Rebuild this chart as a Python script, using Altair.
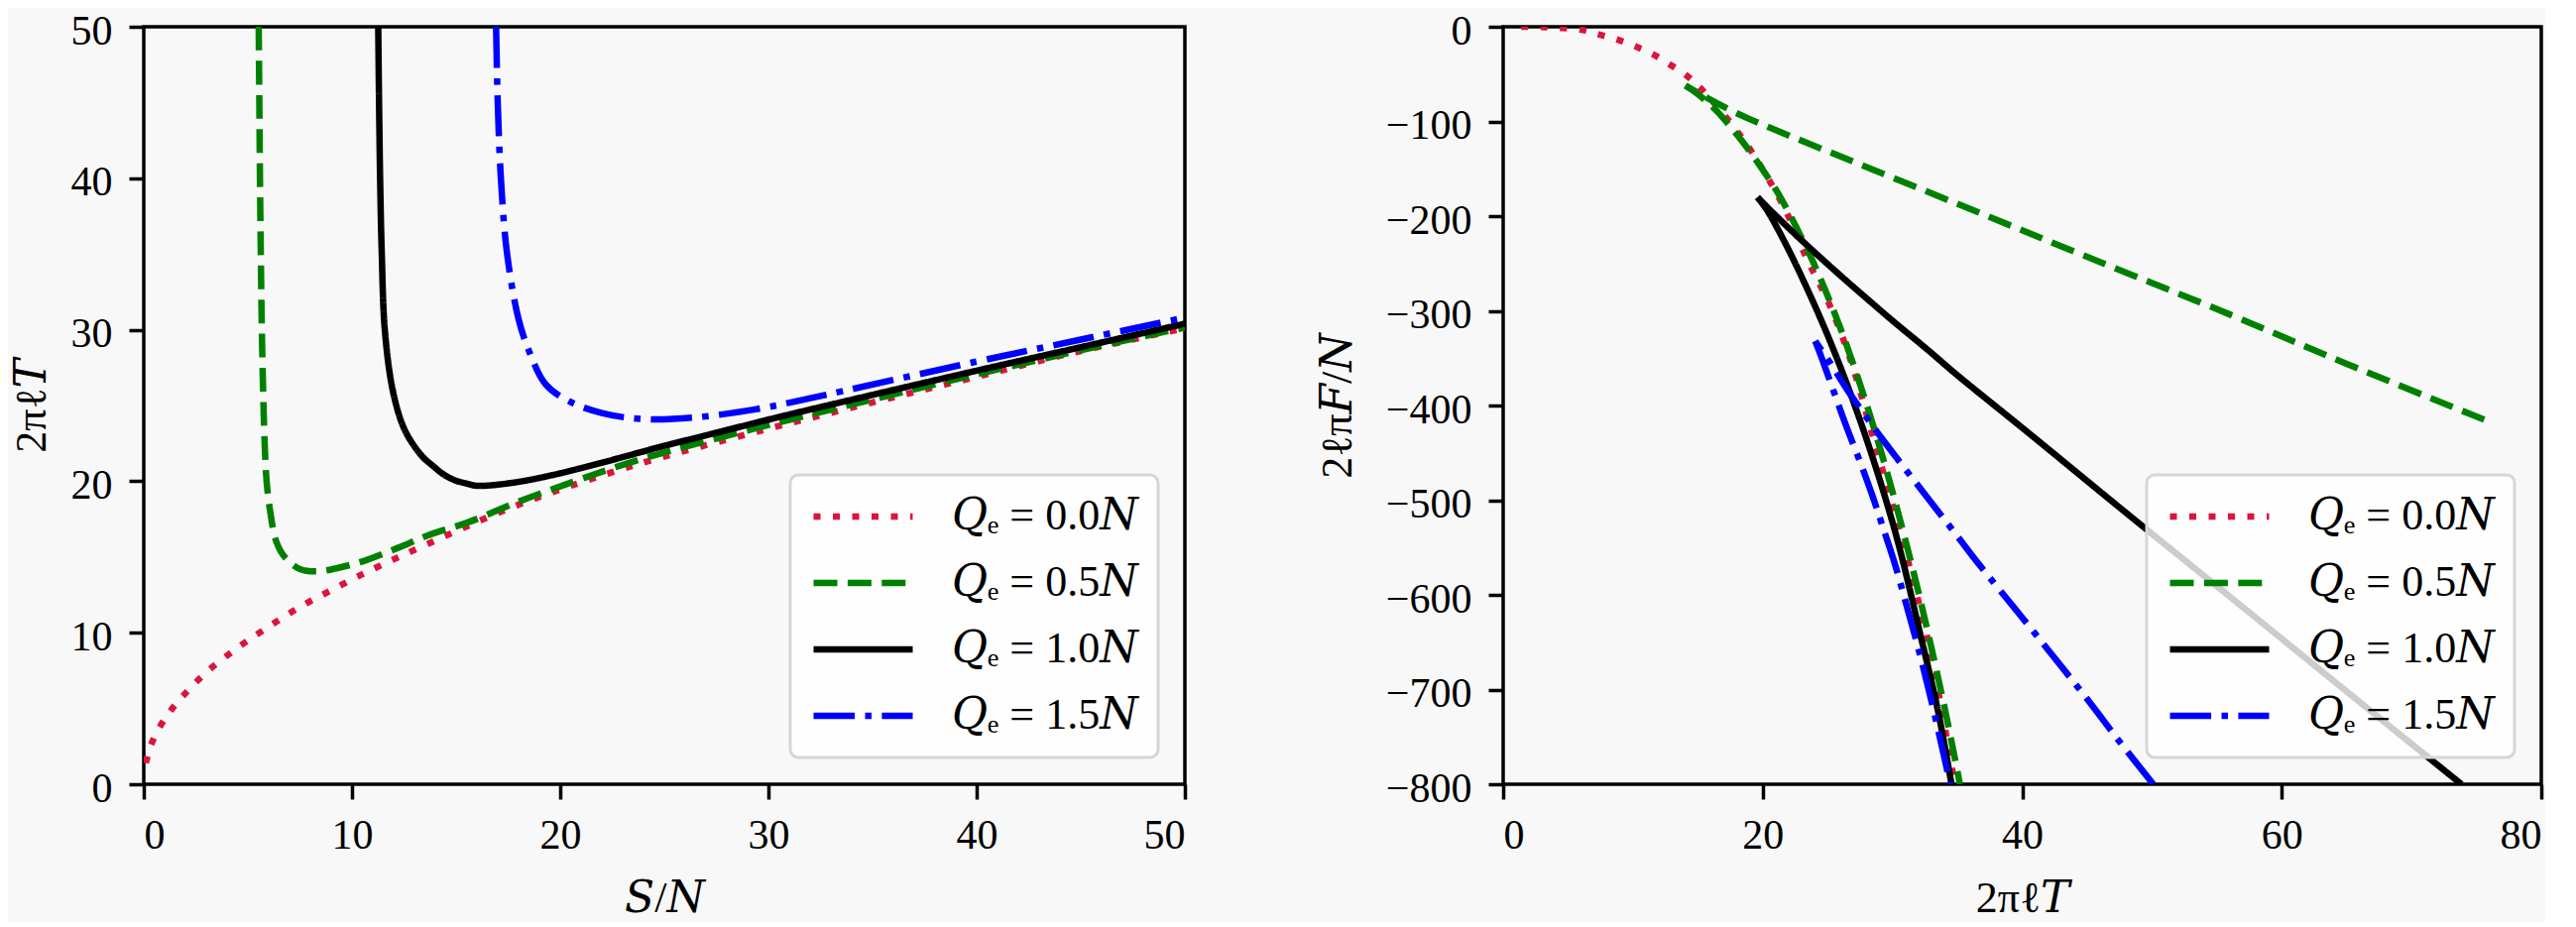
import altair as alt
import pandas as pd

FONT = "Liberation Serif, DejaVu Serif, serif"
SERIES = ["𝑄ₑ = 0.0𝑁", "𝑄ₑ = 0.5𝑁", "𝑄ₑ = 1.0𝑁", "𝑄ₑ = 1.5𝑁"]
COLORS = ["crimson", "green", "black", "blue"]
DASHES = [[7, 12.5], [24, 10.4], [1, 0], [41.6, 10.4, 6.5, 10.4]]

# ---- left panel: 2*pi*l*T versus S/N ----
s_q00 = [0.1, 0.35, 1.0, 1.9, 3.1, 4.6, 6.0, 7.5, 9.0, 10.7, 13.7, 17.9, 23.2, 29.8, 35.0, 40.0, 45.0, 50.0]
t_q00 = [1.4, 2.6, 4.3, 5.85, 7.5, 9.1, 10.4, 11.7, 12.8, 14.0, 15.9, 18.4, 20.9, 23.4, 25.2, 26.9, 28.6, 30.1]

s_q05 = [5.52, 5.55, 5.58, 5.62, 5.67, 5.75, 5.82, 5.9, 6.05, 6.37, 6.8, 7.5, 8.3, 9.4, 10.7,
         12.2, 13.7, 15.6, 17.9, 20.7, 23.5, 29.4, 35.0, 40.0, 45.0, 50.0]
t_q05 = [50.0, 45.0, 40.0, 35.0, 30.0, 25.0, 22.0, 20.0, 18.2, 16.0, 14.95, 14.2, 14.05, 14.3, 14.8,
         15.6, 16.45, 17.3, 18.6, 20.0, 21.3, 23.5, 25.4, 27.05, 28.65, 30.15]

s_q10 = [11.26, 11.3, 11.35, 11.43, 11.57, 11.9, 12.3, 12.6, 12.95, 13.4, 13.9, 14.4, 14.97, 15.5, 16.0,
         17.7, 19.6, 22.2, 24.9, 27.5, 29.8, 31.9, 40.0, 45.0, 50.0]
t_q10 = [50.0, 45.0, 40.0, 35.0, 30.1, 26.4, 24.2, 23.2, 22.4, 21.6, 21.0, 20.45, 20.05, 19.85, 19.7,
         19.9, 20.4, 21.3, 22.3, 23.2, 24.0, 24.7, 27.3, 28.85, 30.4]

s_q15 = [16.92, 17.0, 17.15, 17.45, 18.0, 18.5, 19.3, 20.4, 22.0, 24.0, 26.4, 29.8, 31.9, 40.0, 45.0, 50.0]
t_q15 = [50.0, 45.0, 40.0, 35.0, 30.7, 28.6, 26.4, 25.3, 24.5, 24.1, 24.2, 24.85, 25.45, 27.9, 29.35, 30.8]

# ---- right panel: 2*l*pi*F/N versus 2*pi*l*T (small-S branch, then large-S branch) ----
tr_q00 = [1.4, 3.25, 6.15, 7.5, 8.9, 10.25, 11.6, 12.8, 14.0, 15.0, 16.6, 18.6, 20.15, 21.8,
          23.4, 25.1, 26.8, 28.35, 30.0, 31.5, 33.0, 34.8]
f_q00 = [0.0, -0.5, -3.5, -8.5, -14.0, -21.0, -29.5, -39.5, -50.0, -62.0, -86.0, -121.0, -154.0, -195.0,
         -245.0, -292.0, -353.0, -426.0, -505.0, -580.0, -665.0, -800.0]

tr_q05 = [75.6, 65.0, 56.2, 45.0, 35.0, 25.1, 19.0, 17.0, 15.5, 14.5, 14.05,
          14.8, 15.6, 16.5, 17.3, 18.6, 20.1, 21.4, 23.6, 25.5, 27.1, 28.6, 30.1, 32.0, 34.0, 35.2]
f_q05 = [-415.0, -356.0, -305.0, -243.0, -187.0, -132.0, -97.5, -84.5, -73.5, -65.7, -62.0,
         -69.0, -78.0, -89.5, -102.0, -124.0, -153.0, -181.0, -240.0, -301.0, -361.0, -425.0, -496.0,
         -597.0, -718.0, -800.0]

tr_q10 = [73.85, 65.0, 57.0, 48.6, 40.4, 35.0, 32.7, 30.1, 28.5, 26.4, 24.2, 22.5, 21.2, 20.1, 19.6,
          20.3, 21.1, 22.55, 25.1, 27.64, 30.2, 32.2, 33.5, 34.55]
f_q10 = [-800.0, -702.0, -613.0, -520.0, -428.0, -368.0, -341.0, -311.5, -292.7, -267.7, -240.7, -219.1,
         -202.0, -187.0, -180.0,
         -193.0, -212.0, -251.0, -329.0, -421.0, -533.0, -645.0, -722.0, -800.0]

tr_q15 = [50.1, 47.5, 45.0, 40.0, 36.8, 35.0, 30.7, 28.6, 26.4, 25.3, 24.5, 24.05,
          24.5, 25.0, 25.6, 26.5, 27.6, 28.5, 29.2, 30.2, 31.0, 32.0, 33.0, 34.0, 34.45]
f_q15 = [-800.0, -755.0, -710.0, -624.0, -570.0, -538.0, -462.0, -424.0, -381.0, -357.0, -341.0, -332.0,
         -348.0, -367.0, -390.0, -424.0, -463.0, -497.0, -526.0, -568.0, -607.0, -657.0, -712.0, -772.0, -800.0]

# index of the cusp (minimum temperature) point in each right-panel series
cusp_right = [None, 10, 14, 11]


def frame(xs_list, ys_list, cusps=None):
    rows = []
    for k, (name, xs, ys) in enumerate(zip(SERIES, xs_list, ys_list)):
        c = cusps[k] if cusps else None
        for i, (x, y) in enumerate(zip(xs, ys)):
            if c is None:
                rows.append({"x": x, "y": y, "series": name, "branch": "a", "i": i})
            else:
                if i <= c:
                    rows.append({"x": x, "y": y, "series": name, "branch": "a", "i": i})
                if i >= c:
                    rows.append({"x": x, "y": y, "series": name, "branch": "b", "i": i})
    return pd.DataFrame(rows)


left_df = frame([s_q00, s_q05, s_q10, s_q15], [t_q00, t_q05, t_q10, t_q15])
right_df = frame([tr_q00, tr_q05, tr_q10, tr_q15], [f_q00, f_q05, f_q10, f_q15], cusp_right)

color = alt.Color("series:N", scale=alt.Scale(domain=SERIES, range=COLORS), legend=alt.Legend(title=None))
dash = alt.StrokeDash("series:N", scale=alt.Scale(domain=SERIES, range=DASHES), legend=alt.Legend(title=None))

W, H = 1050, 764
XTITLE_Y = 128

left = alt.Chart(left_df).mark_line(strokeWidth=6.5, interpolate="catmull-rom", clip=True).encode(
    x=alt.X("x:Q", scale=alt.Scale(domain=[0, 50], nice=False),
            axis=alt.Axis(values=[0, 10, 20, 30, 40, 50], title="𝑆/𝑁",
                          titleBaseline="alphabetic", titleY=XTITLE_Y)),
    y=alt.Y("y:Q", scale=alt.Scale(domain=[0, 50], nice=False),
            axis=alt.Axis(values=[0, 10, 20, 30, 40, 50], title="2πℓ𝑇", labelPadding=17, labelOffset=4,
                          titleBaseline="alphabetic", titleX=-100)),
    color=color,
    strokeDash=dash,
    order="i:Q",
).properties(width=W, height=H)

right = alt.Chart(right_df).mark_line(strokeWidth=6.5, interpolate="catmull-rom", clip=True).encode(
    x=alt.X("x:Q", scale=alt.Scale(domain=[0, 80], nice=False),
            axis=alt.Axis(values=[0, 20, 40, 60, 80], title="2πℓ𝑇",
                          titleBaseline="alphabetic", titleY=XTITLE_Y)),
    y=alt.Y("y:Q", scale=alt.Scale(domain=[-800, 0], nice=False),
            axis=alt.Axis(values=[-800, -700, -600, -500, -400, -300, -200, -100, 0],
                          title="2ℓπ𝐹/𝑁", labelPadding=17, labelOffset=4,
                          titleBaseline="alphabetic", titleX=-154)),
    color=color,
    strokeDash=dash,
    detail="branch:N",
    order="i:Q",
).properties(width=W - 3, height=H)

chart = alt.hconcat(left, right, spacing=321, bounds="flush").resolve_legend(
    color="independent", strokeDash="independent"
).properties(
    padding={"top": 0, "left": 0, "right": 0, "bottom": 0}
).configure(
    background="#f8f8f8"
).configure_view(
    stroke="black", strokeWidth=3.5
).configure_axis(
    grid=False, domain=False, ticks=True, tickColor="black", tickWidth=3.5, tickSize=15,
    labelFont=FONT, labelFontSize=42, labelColor="black", labelPadding=16,
    titleFont=FONT, titleFontSize=44, titleFontWeight="normal", titleColor="black",
).configure_legend(
    orient="bottom-right", offset=27, padding=20, cornerRadius=8,
    fillColor="rgba(255,255,255,0.8)", strokeColor="#d6d6d6", strokeWidth=3,
    symbolType="stroke", symbolSize=10000, symbolStrokeWidth=6.5,
    labelFont=FONT, labelFontSize=44, labelColor="black", labelOffset=36, labelLimit=500,
    clipHeight=44, rowPadding=23,
)

chart.save("out.html", embed_options={"renderer": "svg", "actions": False})
